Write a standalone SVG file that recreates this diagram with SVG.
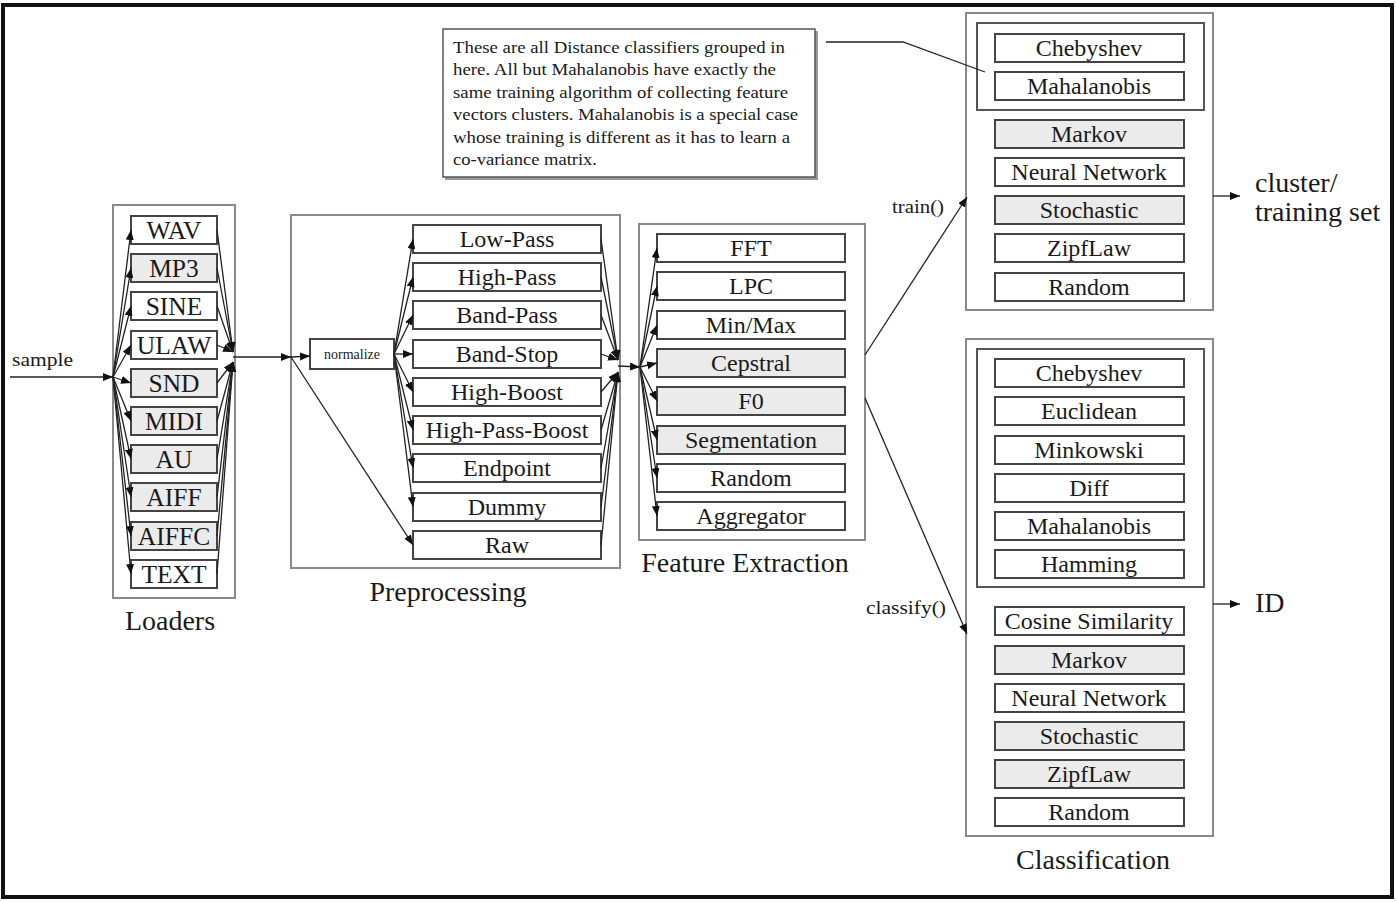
<svg xmlns="http://www.w3.org/2000/svg" width="1396" height="902" viewBox="0 0 1396 902">
<style>
text{font-family:"Liberation Serif","Times New Roman",serif;fill:#1a1a1a}
.it{fill:#fff;stroke:#444;stroke-width:2}
.gr{fill:#ebebeb;stroke:#444;stroke-width:2}
.grp{fill:#fff;stroke:#8a8a8a;stroke-width:2}
.inner{fill:none;stroke:#555;stroke-width:2}
.t{font-size:24px;text-anchor:middle}
.lt{font-size:25.5px;text-anchor:middle}
.lab{font-size:28px;text-anchor:middle}
.side{font-size:28px}
.c line,.c polyline{stroke:#222;stroke-width:1.3;fill:none}
.note{font-size:17px}
</style>
<defs>
<marker id="a" markerUnits="userSpaceOnUse" markerWidth="10" markerHeight="8" refX="10" refY="4" orient="auto">
<path d="M0,0 L10,4 L0,8 z" fill="#111"/>
</marker>
</defs>
<rect x="3" y="5" width="1389" height="892" fill="#fff" stroke="#111" stroke-width="4"/>

<g id="loaders">
<rect class="grp" x="113" y="205" width="122" height="393"/>
<rect class="it" x="131" y="216" width="86" height="28"/><text class="lt" x="174" y="239">WAV</text>
<rect class="gr" x="131" y="254" width="86" height="28"/><text class="lt" x="174" y="277">MP3</text>
<rect class="it" x="131" y="292" width="86" height="28"/><text class="lt" x="174" y="315">SINE</text>
<rect class="it" x="131" y="331" width="86" height="28"/><text class="lt" x="174" y="354">ULAW</text>
<rect class="gr" x="131" y="369" width="86" height="28"/><text class="lt" x="174" y="392">SND</text>
<rect class="gr" x="131" y="407" width="86" height="28"/><text class="lt" x="174" y="430">MIDI</text>
<rect class="gr" x="131" y="445" width="86" height="28"/><text class="lt" x="174" y="468">AU</text>
<rect class="gr" x="131" y="483" width="86" height="28"/><text class="lt" x="174" y="506">AIFF</text>
<rect class="gr" x="131" y="522" width="86" height="28"/><text class="lt" x="174" y="545">AIFFC</text>
<rect class="it" x="131" y="560" width="86" height="28"/><text class="lt" x="174" y="583">TEXT</text>
<text class="lab" x="170" y="630">Loaders</text>
</g>

<g id="preprocessing">
<rect class="grp" x="291" y="215" width="329" height="353"/>
<rect class="it" x="310" y="339" width="84" height="30"/><text x="352" y="359" style="font-size:14px;text-anchor:middle">normalize</text>
<rect class="it" x="413" y="225" width="188" height="28"/><text class="t" x="507" y="247">Low-Pass</text>
<rect class="it" x="413" y="263" width="188" height="28"/><text class="t" x="507" y="285">High-Pass</text>
<rect class="it" x="413" y="301" width="188" height="28"/><text class="t" x="507" y="323">Band-Pass</text>
<rect class="it" x="413" y="340" width="188" height="28"/><text class="t" x="507" y="362">Band-Stop</text>
<rect class="it" x="413" y="378" width="188" height="28"/><text class="t" x="507" y="400">High-Boost</text>
<rect class="it" x="413" y="416" width="188" height="28"/><text class="t" x="507" y="438">High-Pass-Boost</text>
<rect class="it" x="413" y="454" width="188" height="28"/><text class="t" x="507" y="476">Endpoint</text>
<rect class="it" x="413" y="493" width="188" height="28"/><text class="t" x="507" y="515">Dummy</text>
<rect class="it" x="413" y="531" width="188" height="28"/><text class="t" x="507" y="553">Raw</text>
<text class="lab" x="448" y="601">Preprocessing</text>
</g>

<g id="feature-extraction">
<rect class="grp" x="639" y="224" width="226" height="316"/>
<rect class="it" x="657" y="234" width="188" height="28"/><text class="t" x="751" y="256">FFT</text>
<rect class="it" x="657" y="272" width="188" height="28"/><text class="t" x="751" y="294">LPC</text>
<rect class="it" x="657" y="311" width="188" height="28"/><text class="t" x="751" y="333">Min/Max</text>
<rect class="gr" x="657" y="349" width="188" height="28"/><text class="t" x="751" y="371">Cepstral</text>
<rect class="gr" x="657" y="387" width="188" height="28"/><text class="t" x="751" y="409">F0</text>
<rect class="gr" x="657" y="426" width="188" height="28"/><text class="t" x="751" y="448">Segmentation</text>
<rect class="it" x="657" y="464" width="188" height="28"/><text class="t" x="751" y="486">Random</text>
<rect class="it" x="657" y="502" width="188" height="28"/><text class="t" x="751" y="524">Aggregator</text>
<text class="lab" x="745" y="572">Feature Extraction</text>
</g>

<g id="training">
<rect class="grp" x="966" y="13" width="247" height="297"/>
<rect class="inner" x="977" y="23" width="227" height="87"/>
<rect class="it" x="995" y="34" width="189" height="28"/><text class="t" x="1089" y="56">Chebyshev</text>
<rect class="it" x="995" y="72" width="189" height="28"/><text class="t" x="1089" y="94">Mahalanobis</text>
<rect class="gr" x="995" y="120" width="189" height="28"/><text class="t" x="1089" y="142">Markov</text>
<rect class="it" x="995" y="158" width="189" height="28"/><text class="t" x="1089" y="180">Neural Network</text>
<rect class="gr" x="995" y="196" width="189" height="28"/><text class="t" x="1089" y="218">Stochastic</text>
<rect class="it" x="995" y="234" width="189" height="28"/><text class="t" x="1089" y="256">ZipfLaw</text>
<rect class="it" x="995" y="273" width="189" height="28"/><text class="t" x="1089" y="295">Random</text>
</g>

<g id="classification">
<rect class="grp" x="966" y="339" width="247" height="497"/>
<rect class="inner" x="977" y="349" width="227" height="238"/>
<rect class="it" x="995" y="359" width="189" height="28"/><text class="t" x="1089" y="381">Chebyshev</text>
<rect class="it" x="995" y="397" width="189" height="28"/><text class="t" x="1089" y="419">Euclidean</text>
<rect class="it" x="995" y="436" width="189" height="28"/><text class="t" x="1089" y="458">Minkowski</text>
<rect class="it" x="995" y="474" width="189" height="28"/><text class="t" x="1089" y="496">Diff</text>
<rect class="it" x="995" y="512" width="189" height="28"/><text class="t" x="1089" y="534">Mahalanobis</text>
<rect class="it" x="995" y="550" width="189" height="28"/><text class="t" x="1089" y="572">Hamming</text>
<rect class="it" x="995" y="607" width="189" height="28"/><text class="t" x="1089" y="629">Cosine Similarity</text>
<rect class="gr" x="995" y="646" width="189" height="28"/><text class="t" x="1089" y="668">Markov</text>
<rect class="it" x="995" y="684" width="189" height="28"/><text class="t" x="1089" y="706">Neural Network</text>
<rect class="gr" x="995" y="722" width="189" height="28"/><text class="t" x="1089" y="744">Stochastic</text>
<rect class="gr" x="995" y="760" width="189" height="28"/><text class="t" x="1089" y="782">ZipfLaw</text>
<rect class="it" x="995" y="798" width="189" height="28"/><text class="t" x="1089" y="820">Random</text>
<text class="lab" x="1093" y="869">Classification</text>
</g>

<g id="note">
<rect x="445" y="31" width="373" height="149" fill="#999"/>
<rect x="443" y="29" width="372" height="148" fill="#fff" stroke="#555" stroke-width="1.5"/>
<text class="note" x="453" y="53" textLength="332" lengthAdjust="spacingAndGlyphs">These are all Distance classifiers grouped in</text>
<text class="note" x="453" y="75" textLength="323" lengthAdjust="spacingAndGlyphs">here. All but Mahalanobis have exactly the</text>
<text class="note" x="453" y="98" textLength="335" lengthAdjust="spacingAndGlyphs">same training algorithm of collecting feature</text>
<text class="note" x="453" y="120" textLength="345" lengthAdjust="spacingAndGlyphs">vectors clusters. Mahalanobis is a special case</text>
<text class="note" x="453" y="143" textLength="337" lengthAdjust="spacingAndGlyphs">whose training is different as it has to learn a</text>
<text class="note" x="453" y="165" textLength="144" lengthAdjust="spacingAndGlyphs">co-variance matrix.</text>
</g>

<g id="outputs">
<text x="12" y="366" style="font-size:19px" textLength="61" lengthAdjust="spacingAndGlyphs">sample</text>
<text x="892" y="213" style="font-size:18px" textLength="52" lengthAdjust="spacingAndGlyphs">train()</text>
<text x="866" y="614" style="font-size:18px" textLength="80" lengthAdjust="spacingAndGlyphs">classify()</text>
<text class="side" x="1255" y="192">cluster/</text>
<text class="side" x="1255" y="221">training set</text>
<text class="side" x="1255" y="612">ID</text>
</g>

<g id="connectors" class="c">
<line x1="10" y1="377" x2="113" y2="377" marker-end="url(#a)"/>
<line x1="113" y1="377" x2="131" y2="230" marker-end="url(#a)"/>
<line x1="113" y1="377" x2="131" y2="268" marker-end="url(#a)"/>
<line x1="113" y1="377" x2="131" y2="306" marker-end="url(#a)"/>
<line x1="113" y1="377" x2="131" y2="345" marker-end="url(#a)"/>
<line x1="113" y1="377" x2="131" y2="383" marker-end="url(#a)"/>
<line x1="113" y1="377" x2="131" y2="421" marker-end="url(#a)"/>
<line x1="113" y1="377" x2="131" y2="459" marker-end="url(#a)"/>
<line x1="113" y1="377" x2="131" y2="497" marker-end="url(#a)"/>
<line x1="113" y1="377" x2="131" y2="536" marker-end="url(#a)"/>
<line x1="113" y1="377" x2="131" y2="574" marker-end="url(#a)"/>
<line x1="217" y1="230" x2="233" y2="352" marker-end="url(#a)"/>
<line x1="217" y1="268" x2="233" y2="352" marker-end="url(#a)"/>
<line x1="217" y1="306" x2="233" y2="352" marker-end="url(#a)"/>
<line x1="217" y1="345" x2="233" y2="352" marker-end="url(#a)"/>
<line x1="217" y1="383" x2="233" y2="362" marker-end="url(#a)"/>
<line x1="217" y1="421" x2="233" y2="362" marker-end="url(#a)"/>
<line x1="217" y1="459" x2="233" y2="362" marker-end="url(#a)"/>
<line x1="217" y1="497" x2="233" y2="362" marker-end="url(#a)"/>
<line x1="217" y1="536" x2="233" y2="362" marker-end="url(#a)"/>
<line x1="217" y1="574" x2="233" y2="362" marker-end="url(#a)"/>
<line x1="233" y1="357" x2="291" y2="357" marker-end="url(#a)"/>
<line x1="291" y1="357" x2="310" y2="356" marker-end="url(#a)"/>
<line x1="291" y1="357" x2="413" y2="545" marker-end="url(#a)"/>
<line x1="394" y1="354" x2="413" y2="239" marker-end="url(#a)"/>
<line x1="394" y1="354" x2="413" y2="277" marker-end="url(#a)"/>
<line x1="394" y1="354" x2="413" y2="315" marker-end="url(#a)"/>
<line x1="394" y1="354" x2="413" y2="354" marker-end="url(#a)"/>
<line x1="394" y1="354" x2="413" y2="392" marker-end="url(#a)"/>
<line x1="394" y1="354" x2="413" y2="430" marker-end="url(#a)"/>
<line x1="394" y1="354" x2="413" y2="468" marker-end="url(#a)"/>
<line x1="394" y1="354" x2="413" y2="507" marker-end="url(#a)"/>
<line x1="601" y1="239" x2="618" y2="360" marker-end="url(#a)"/>
<line x1="601" y1="277" x2="618" y2="360" marker-end="url(#a)"/>
<line x1="601" y1="315" x2="618" y2="360" marker-end="url(#a)"/>
<line x1="601" y1="354" x2="618" y2="360" marker-end="url(#a)"/>
<line x1="601" y1="392" x2="618" y2="372" marker-end="url(#a)"/>
<line x1="601" y1="430" x2="618" y2="372" marker-end="url(#a)"/>
<line x1="601" y1="468" x2="618" y2="372" marker-end="url(#a)"/>
<line x1="601" y1="507" x2="618" y2="372" marker-end="url(#a)"/>
<line x1="601" y1="545" x2="618" y2="372" marker-end="url(#a)"/>
<line x1="618" y1="366" x2="640" y2="367" marker-end="url(#a)"/>
<line x1="640" y1="367" x2="657" y2="248" marker-end="url(#a)"/>
<line x1="640" y1="367" x2="657" y2="286" marker-end="url(#a)"/>
<line x1="640" y1="367" x2="657" y2="325" marker-end="url(#a)"/>
<line x1="640" y1="367" x2="657" y2="363" marker-end="url(#a)"/>
<line x1="640" y1="367" x2="657" y2="401" marker-end="url(#a)"/>
<line x1="640" y1="367" x2="657" y2="440" marker-end="url(#a)"/>
<line x1="640" y1="367" x2="657" y2="478" marker-end="url(#a)"/>
<line x1="640" y1="367" x2="657" y2="516" marker-end="url(#a)"/>
<line x1="865" y1="355" x2="967" y2="197" marker-end="url(#a)"/>
<line x1="865" y1="398" x2="967" y2="634" marker-end="url(#a)"/>
<line x1="1213" y1="196" x2="1240" y2="196" marker-end="url(#a)"/>
<line x1="1213" y1="604" x2="1240" y2="604" marker-end="url(#a)"/>
<polyline points="826,42 903,42 985,72"/>
</g>
</svg>
